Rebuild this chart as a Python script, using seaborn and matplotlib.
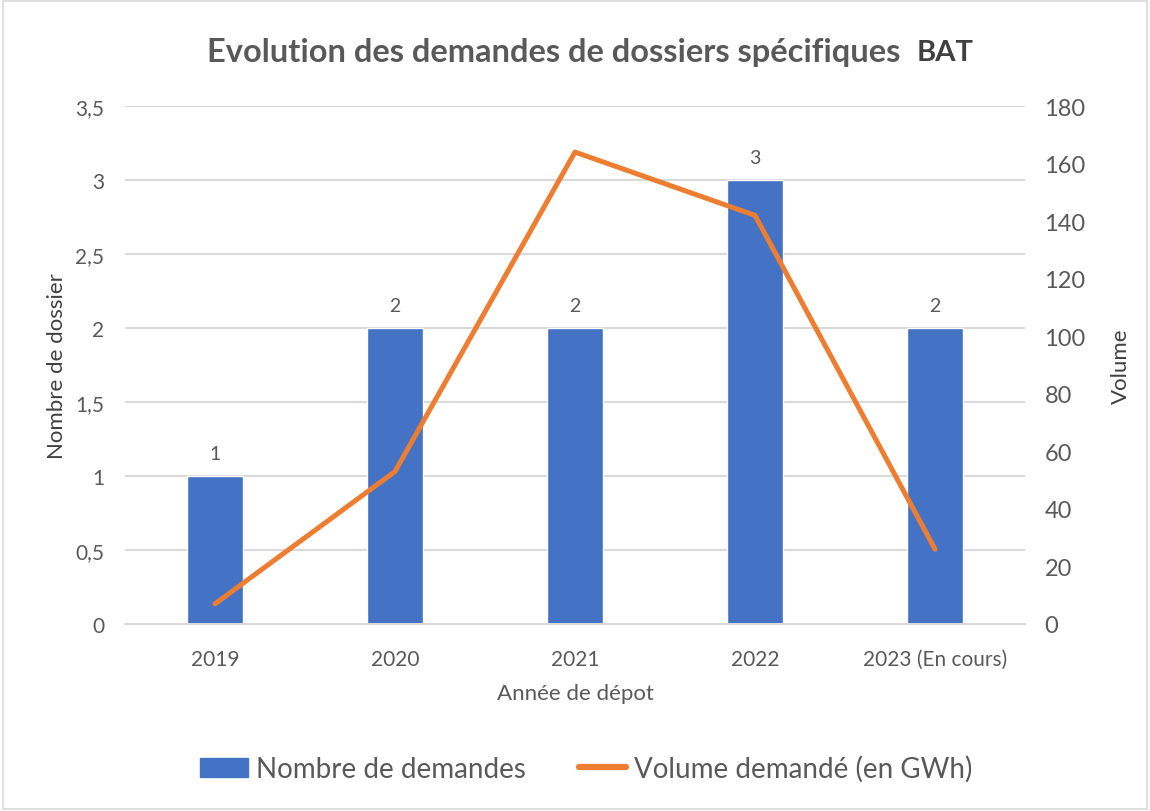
import numpy as np
import matplotlib
matplotlib.use("Agg")
import matplotlib.pyplot as plt
import seaborn as sns
from matplotlib.patches import Patch, Rectangle
from matplotlib.lines import Line2D

# Data
years = ["2019", "2020", "2021", "2022", "2023 (En cours)"]
nb_demandes = [1, 2, 2, 3, 2]
volume_gwh = [7, 53, 164, 142, 26]

BLUE = "#4472C4"
ORANGE = "#ED7D31"
GREY = "#595959"
GRID = "#D9D9D9"

sns.set_theme(style="white")
plt.rcParams['font.family'] = ['Lato', 'DejaVu Sans']

fig = plt.figure(figsize=(11.5, 8.12), dpi=100)
ax = fig.add_axes([0.1087, 0.2303, 0.7826, 0.6379])

# bars: number of requests
sns.barplot(x=years, y=nb_demandes, color=BLUE, width=0.31, saturation=1, ax=ax, zorder=2)
ax.set_ylim(0, 3.5)
ax.set_xlim(-0.5, len(years) - 0.5)
left_ticks = np.arange(0, 3.51, 0.5)
ax.set_yticks(left_ticks)
ax.set_yticklabels([f"{v:g}".replace(".", ",") for v in left_ticks],
                   fontsize=15, color=GREY)
ax.tick_params(axis="x", labelsize=15, colors=GREY, length=0, pad=18)
ax.tick_params(axis="y", length=0, pad=15)
ax.yaxis.grid(True, color=GRID, linewidth=1.5, zorder=0)
ax.set_axisbelow(True)
for s in ["top", "left", "right"]:
    ax.spines[s].set_visible(False)
ax.spines["bottom"].set_color(GRID)
ax.spines["bottom"].set_linewidth(1.5)
ax.set_xlabel("Année de dépot", fontsize=16, color=GREY, labelpad=10)
ax.set_ylabel("Nombre de dossier", fontsize=16, color="#404040")
ax.yaxis.set_label_coords(-0.064, 0.5)

for i, v in enumerate(nb_demandes):
    ax.annotate(str(v), (i, v), xytext=(0, 10), textcoords="offset points",
                ha="center", va="bottom", fontsize=14, color=GREY)

# line: requested volume
ax2 = ax.twinx()
sns.lineplot(x=np.arange(len(years)), y=volume_gwh, color=ORANGE, linewidth=3.6,
             ax=ax2, zorder=3, solid_capstyle="round")
ax2.set_ylim(0, 180)
ax2.set_yticks(np.arange(0, 181, 20))
ax2.tick_params(axis="y", labelsize=17, colors=GREY, length=0, pad=14)
for s in ["top", "left", "right", "bottom"]:
    ax2.spines[s].set_visible(False)
ax2.set_ylabel("Volume", fontsize=16, color="#404040", labelpad=18)
ax2.grid(False)

fig.text(0.18, 0.935, "Evolution des demandes de dossiers spécifiques",
         fontsize=23.5, fontweight="bold", color=GREY, ha="left", va="center")
fig.text(0.797, 0.935, "BAT", fontsize=21, fontweight="bold", color="#404040",
         ha="left", va="center")

handles = [Patch(facecolor=BLUE, edgecolor=BLUE),
           Line2D([0], [0], color=ORANGE, linewidth=4.5)]
fig.legend(handles, ["Nombre de demandes", "Volume demandé (en GWh)"],
           loc="center", bbox_to_anchor=(0.51, 0.052), ncol=2, frameon=False,
           fontsize=20, labelcolor=GREY, handlelength=1.7, handletextpad=0.3,
           columnspacing=1.9)

fig.patches.append(Rectangle((0.003, 0.003), 0.994, 0.994, transform=fig.transFigure,
                             fill=False, edgecolor=GRID, linewidth=1.2))

fig.savefig("out.png", dpi=100)
